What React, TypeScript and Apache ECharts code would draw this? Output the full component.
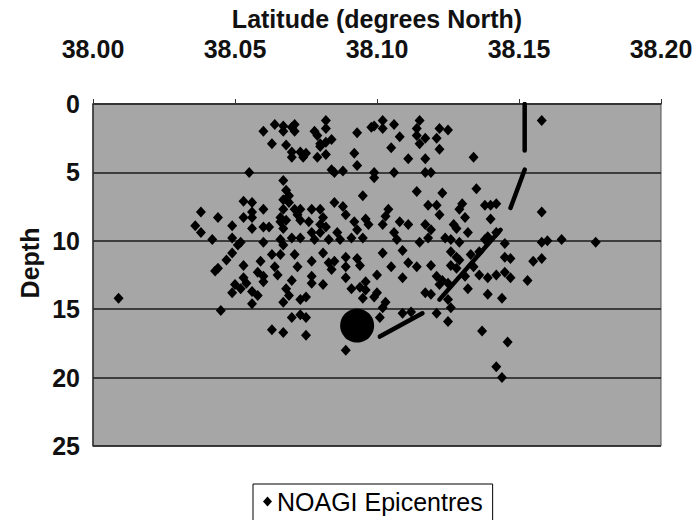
import React, { useEffect, useRef } from "react";
import * as echarts from "echarts";

// [latitude (°N), depth]
const epicentresUpper: [number, number][] = [
  [38.064, 1.5], [38.067, 1.6], [38.070, 1.7], [38.071, 1.5], [38.060, 2.0], [38.067, 2.0], [38.071, 2.0],
  [38.063, 2.9], [38.068, 3.0], [38.070, 3.5], [38.073, 3.5], [38.070, 3.9], [38.074, 3.9], [38.055, 5.0],
  [38.067, 5.6], [38.068, 6.3], [38.067, 7.0], [38.069, 7.2], [38.071, 7.7], [38.067, 7.7], [38.073, 7.7],
  [38.053, 7.1], [38.056, 7.2], [38.056, 7.9], [38.060, 7.7], [38.038, 7.9], [38.044, 8.3], [38.053, 8.3],
  [38.056, 8.3], [38.066, 8.3], [38.068, 8.5], [38.036, 8.9], [38.049, 8.9], [38.056, 9.1], [38.060, 9.0],
  [38.062, 9.0], [38.067, 9.1], [38.073, 8.5], [38.038, 9.4], [38.069, 6.7], [38.066, 8.6], [38.072, 8.1],
  [38.082, 1.2], [38.082, 1.8], [38.078, 2.0], [38.079, 2.3], [38.084, 2.6], [38.082, 2.8], [38.080, 2.9],
  [38.080, 3.1], [38.082, 3.7], [38.079, 3.9], [38.075, 3.6], [38.093, 2.1], [38.098, 1.7], [38.099, 1.6],
  [38.102, 1.2], [38.102, 1.8], [38.106, 1.5], [38.108, 2.4], [38.105, 3.2], [38.092, 3.6], [38.093, 4.5],
  [38.115, 1.2], [38.114, 1.8], [38.114, 2.3], [38.115, 2.9], [38.117, 2.5], [38.111, 4.0], [38.117, 4.0],
  [38.084, 4.8], [38.085, 5.0], [38.088, 4.9], [38.099, 5.0], [38.099, 5.4], [38.106, 5.0], [38.117, 5.0],
  [38.119, 5.0], [38.095, 6.7], [38.114, 6.4], [38.118, 7.4], [38.085, 7.2], [38.088, 7.5], [38.077, 7.7],
  [38.080, 7.7], [38.081, 8.3], [38.089, 8.1], [38.104, 7.7], [38.103, 8.2], [38.096, 8.4], [38.092, 8.6],
  [38.076, 8.6], [38.080, 8.8], [38.082, 9.0], [38.093, 9.2], [38.097, 8.8], [38.102, 8.8], [38.108, 8.6],
  [38.111, 8.8], [38.117, 8.8], [38.119, 9.2], [38.106, 9.4], [38.077, 9.4], [38.080, 9.4], [38.086, 9.4],
  [38.158, 1.2], [38.122, 1.8], [38.125, 1.9], [38.121, 2.5], [38.122, 3.3], [38.134, 3.9], [38.135, 6.2],
  [38.123, 6.5], [38.138, 7.4], [38.140, 7.4], [38.142, 7.3], [38.121, 7.4], [38.130, 7.3], [38.129, 7.7],
  [38.122, 8.1], [38.131, 8.3], [38.140, 8.4], [38.158, 7.9], [38.127, 8.8], [38.128, 9.1], [38.132, 9.4],
  [38.142, 9.4], [38.139, 9.7],
];

const epicentresLower: [number, number][] = [
  [38.042, 9.9], [38.049, 9.8], [38.051, 10.3], [38.052, 10.1], [38.060, 10.1], [38.066, 9.9], [38.067, 10.3],
  [38.070, 9.8], [38.073, 9.8], [38.049, 10.9], [38.047, 11.4], [38.044, 12.0], [38.043, 12.2], [38.053, 11.8],
  [38.059, 11.5], [38.063, 11.0], [38.066, 11.0], [38.064, 11.9], [38.071, 11.0], [38.072, 11.9], [38.058, 12.3],
  [38.060, 12.6], [38.060, 13.0], [38.065, 12.5], [38.053, 12.7], [38.054, 13.1], [38.050, 13.2], [38.049, 13.8],
  [38.052, 13.5], [38.056, 13.7], [38.058, 14.0], [38.056, 14.6], [38.070, 12.9], [38.068, 13.5], [38.069, 14.0],
  [38.067, 14.5], [38.073, 14.3], [38.045, 15.1], [38.073, 15.4], [38.070, 15.6], [38.063, 16.5], [38.067, 16.7],
  [38.078, 9.9], [38.083, 9.9], [38.087, 9.9], [38.091, 9.8], [38.095, 9.8], [38.107, 9.9], [38.115, 10.1],
  [38.118, 9.8], [38.081, 10.9], [38.077, 11.5], [38.083, 11.6], [38.085, 11.5], [38.089, 11.2], [38.093, 11.3],
  [38.094, 11.8], [38.089, 11.9], [38.084, 12.1], [38.102, 10.9], [38.109, 10.7], [38.111, 11.6], [38.105, 11.9],
  [38.100, 12.5], [38.109, 12.7], [38.089, 12.7], [38.096, 13.0], [38.077, 12.6], [38.077, 13.1], [38.081, 13.2],
  [38.091, 13.5], [38.094, 13.4], [38.096, 13.6], [38.100, 13.8], [38.095, 14.2], [38.099, 14.1], [38.075, 14.1],
  [38.117, 13.8], [38.119, 13.9], [38.103, 14.5], [38.102, 14.9], [38.101, 15.6], [38.109, 15.3], [38.112, 15.2],
  [38.075, 15.6], [38.075, 16.9], [38.089, 18.0], [38.119, 11.8], [38.114, 11.9],
  [38.124, 9.8], [38.126, 9.9], [38.129, 10.1], [38.138, 9.9], [38.145, 10.2], [38.158, 10.1], [38.160, 10.0],
  [38.165, 9.9], [38.126, 10.8], [38.128, 11.2], [38.129, 11.4], [38.126, 11.8], [38.133, 11.0], [38.134, 11.9],
  [38.136, 10.8], [38.145, 11.2], [38.147, 11.3], [38.155, 11.5], [38.158, 11.3], [38.128, 12.0], [38.121, 12.6],
  [38.123, 12.9], [38.131, 12.6], [38.136, 12.5], [38.139, 12.7], [38.142, 12.5], [38.145, 12.3], [38.147, 12.7],
  [38.153, 12.9], [38.122, 13.2], [38.125, 13.1], [38.132, 13.5], [38.139, 13.9], [38.144, 14.2], [38.125, 14.3],
  [38.126, 14.9], [38.121, 15.3], [38.125, 15.9], [38.137, 16.6], [38.146, 17.4],
];

const epicentresOutliers: [number, number][] = [
  [38.009, 14.2], [38.142, 19.2], [38.144, 20.0], [38.177, 10.1],
];

const mainShock: [number, number][] = [[38.093, 16.2]];

const faultSegments: [number, number][][] = [
  [[38.152, 0], [38.152, 3.4]],
  [[38.152, 4.8], [38.147, 7.6]],
  [[38.1435, 9.2], [38.122, 14.3]],
  [[38.116, 15.3], [38.101, 17.0]],
];

const FONT = "'Liberation Sans', Arial, Helvetica, sans-serif";
const LEGEND_NAME = "NOAGI Epicentres";
const Y_TITLE = "Depth";

export default function App() {
  const ref = useRef<HTMLDivElement>(null);
  useEffect(() => {
    document.body.style.margin = "0";
    const chart = echarts.init(ref.current!, null, { renderer: "svg" });
    const allEpicentres = [...epicentresUpper, ...epicentresLower, ...epicentresOutliers];
    chart.setOption({
      animation: false,
      grid: {
        left: 93, right: 32, top: 104, bottom: 74,
        containLabel: false, outerBoundsMode: "none",
        show: true, backgroundColor: "#a6a6a6", borderColor: "#555", borderWidth: 1,
      },
      legend: {
        data: [{ name: LEGEND_NAME, icon: "diamond" }],
        top: 484, left: 253,
        itemWidth: 9, itemHeight: 10,
        borderColor: "#000", borderWidth: 1, padding: [5, 10, 10, 10],
        backgroundColor: "#fff",
        textStyle: { fontFamily: FONT, fontSize: 25, color: "#000" },
      },
      graphic: [
        {
          type: "text", x: 30, y: 263, rotation: Math.PI / 2,
          style: {
            text: Y_TITLE, fill: "#111", font: `bold 25px ${FONT}`,
            align: "center", verticalAlign: "middle",
          },
        },
      ],
      xAxis: {
        type: "value", position: "top", min: 38, max: 38.2, interval: 0.05,
        name: "Latitude (degrees North)", nameLocation: "middle", nameGap: 59,
        nameTextStyle: { fontFamily: FONT, fontSize: 25, fontWeight: "bold", color: "#111" },
        axisLine: { show: true, lineStyle: { color: "#333", width: 1.5 } },
        axisTick: { show: true, length: 5, lineStyle: { color: "#333" } },
        axisLabel: {
          margin: 43, fontFamily: FONT, fontSize: 25, fontWeight: "bold", color: "#111",
          formatter: (v: number) => v.toFixed(2),
        },
        splitLine: { show: false },
      },
      yAxis: {
        type: "value", inverse: true, min: 0, max: 25, interval: 5,
        axisLine: { show: true, lineStyle: { color: "#333", width: 1.5 } },
        axisTick: { show: false },
        axisLabel: { margin: 13, fontFamily: FONT, fontSize: 25, fontWeight: "bold", color: "#111" },
        splitLine: { show: true, lineStyle: { color: "#1a1a1a", width: 1.5 } },
      },
      series: [
        {
          name: LEGEND_NAME, type: "scatter", data: allEpicentres,
          symbol: "diamond", symbolSize: [10, 11],
          itemStyle: { color: "#000", opacity: 1 },
        },
        ...faultSegments.map((seg) => ({
          name: "fault", type: "line", data: seg, symbol: "none",
          lineStyle: { color: "#000", width: 4.5, cap: "round" },
        })),
        {
          name: "main shock", type: "scatter", data: mainShock,
          symbol: "circle", symbolSize: 34, itemStyle: { color: "#000", opacity: 1 },
        },
      ],
    });
    return () => chart.dispose();
  }, []);
  return <div ref={ref} style={{ width: 693, height: 520 }} />;
}
